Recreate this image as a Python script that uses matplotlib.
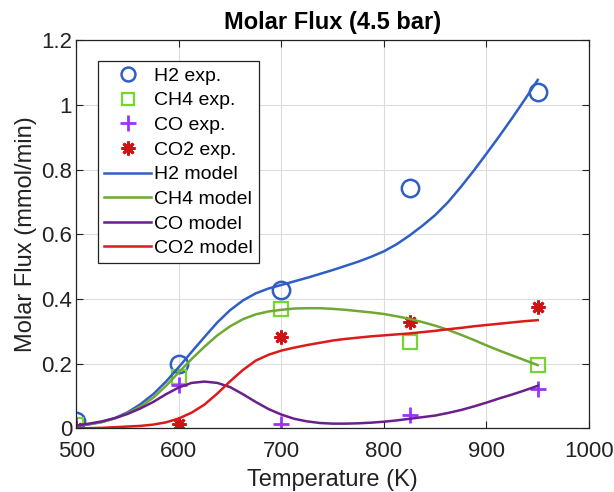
import numpy as np
import matplotlib
matplotlib.use("Agg")
import matplotlib.pyplot as plt

# experimental points
T_exp = [500, 600, 700, 825, 950]
h2_exp = [0.024, 0.198, 0.427, 0.743, 1.040]
ch4_exp = [0.010, 0.158, 0.369, 0.268, 0.196]
co_exp = [0.010, 0.134, 0.014, 0.042, 0.122]
co2_exp = [0.000, 0.013, 0.282, 0.330, 0.375]

# model curves (read every 12.5 K)
T_mod = [500, 512.5, 525, 537.5, 550, 562.5, 575, 587.5, 600, 612.5, 625, 637.5,
         650, 662.5, 675, 687.5, 700, 712.5, 725, 737.5, 750, 762.5, 775, 787.5,
         800, 812.5, 825, 837.5, 850, 862.5, 875, 887.5, 900, 912.5, 925, 937.5, 950]
h2_mod = [0.009, 0.013, 0.020, 0.032, 0.050, 0.075, 0.106, 0.145, 0.190, 0.237, 0.283, 0.328,
          0.366, 0.396, 0.418, 0.433, 0.444, 0.455, 0.466, 0.478, 0.490, 0.503, 0.516, 0.531,
          0.548, 0.570, 0.597, 0.627, 0.660, 0.700, 0.747, 0.797, 0.850, 0.904, 0.960, 1.018, 1.078]
ch4_mod = [0.009, 0.013, 0.020, 0.031, 0.047, 0.068, 0.095, 0.132, 0.174, 0.215, 0.253, 0.288,
           0.316, 0.338, 0.353, 0.362, 0.367, 0.371, 0.372, 0.372, 0.370, 0.367, 0.363, 0.359,
           0.354, 0.347, 0.339, 0.329, 0.318, 0.305, 0.290, 0.274, 0.257, 0.241, 0.226, 0.211, 0.196]
co_mod = [0.009, 0.015, 0.022, 0.032, 0.045, 0.062, 0.082, 0.106, 0.127, 0.141, 0.145, 0.141,
          0.128, 0.106, 0.082, 0.060, 0.043, 0.030, 0.022, 0.017, 0.015, 0.015, 0.016, 0.018,
          0.021, 0.025, 0.030, 0.035, 0.040, 0.048, 0.057, 0.068, 0.080, 0.093, 0.105, 0.118, 0.132]
co2_mod = [0.000, 0.001, 0.002, 0.004, 0.006, 0.008, 0.012, 0.019, 0.031, 0.049, 0.074, 0.108,
           0.146, 0.181, 0.210, 0.228, 0.241, 0.250, 0.258, 0.265, 0.272, 0.277, 0.281, 0.285,
           0.288, 0.291, 0.294, 0.298, 0.302, 0.307, 0.311, 0.316, 0.320, 0.324, 0.328, 0.332, 0.335]

plt.rcParams['font.family'] = ['Liberation Sans', 'DejaVu Sans']

fig = plt.figure(figsize=(6.14, 4.92), dpi=100)
ax = fig.add_axes([0.1243, 0.1291, 0.9593 - 0.1243, 0.9177 - 0.1291])

ax.plot(T_exp, h2_exp, linestyle='none', marker='o', ms=12.5, mfc='none',
        mec='#2f5ec4', mew=1.8, label='H2 exp.')
ax.plot(T_exp, ch4_exp, linestyle='none', marker='s', ms=9.5, mfc='none',
        mec='#74d62e', mew=1.6, label='CH4 exp.')
ax.plot(T_exp, co_exp, linestyle='none', marker='+', ms=11, mec='#9a33ff',
        mew=2.0, label='CO exp.')
ax.plot(T_exp, co2_exp, linestyle='none', marker=(8, 2, 0), ms=10, mec='#cc1414',
        mfc='#cc1414', mew=2.0, label='CO2 exp.')

ax.plot(T_mod, h2_mod, color='#2f5ec4', lw=1.8, label='H2 model')
ax.plot(T_mod, ch4_mod, color='#6fa832', lw=1.8, label='CH4 model')
ax.plot(T_mod, co_mod, color='#6a1f8c', lw=1.8, label='CO model')
ax.plot(T_mod, co2_mod, color='#dc1a1a', lw=1.8, label='CO2 model')

ax.set_xlim(500, 1000)
ax.set_ylim(0, 1.2)
ax.set_xticks([500, 600, 700, 800, 900, 1000])
ax.set_yticks([0, 0.2, 0.4, 0.6, 0.8, 1.0, 1.2])
ax.set_yticklabels(['0', '0.2', '0.4', '0.6', '0.8', '1', '1.2'])
ax.tick_params(direction='in', length=5, width=0.8, top=True, right=True,
               labelsize=16, colors='#222222', pad=3)
ax.tick_params(axis='x', pad=9)
ax.grid(True, color='#dcdcdc', lw=0.8)
ax.set_axisbelow(True)
for s in ax.spines.values():
    s.set_linewidth(0.9)
    s.set_color('#222222')

ax.set_title('Molar Flux (4.5 bar)', fontsize=17, fontweight='bold', pad=8)
ax.set_xlabel('Temperature (K)', fontsize=17, color='#222222', va='bottom')
ax.xaxis.set_label_coords(0.5, -0.161)
ax.set_ylabel('Molar Flux (mmol/min)', fontsize=17, color='#222222')
ax.yaxis.set_label_coords(-0.077, 0.5)

leg = ax.legend(loc='upper left', bbox_to_anchor=(0.043, 0.946), fontsize=14,
                handlelength=2.4, handletextpad=0.18, labelspacing=0.36,
                borderpad=0.3, borderaxespad=0, fancybox=False, framealpha=1,
                edgecolor='#222222')
leg.get_frame().set_linewidth(0.9)
leg.legend_handles[0].set_markersize(10)
leg.legend_handles[1].set_markersize(9)

fig.savefig('out.png', dpi=100)
